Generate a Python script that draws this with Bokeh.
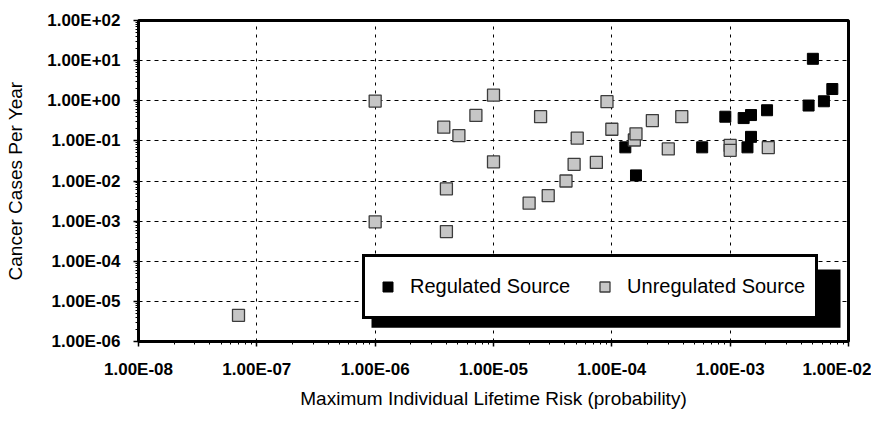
from bokeh.plotting import figure
from bokeh.models import (Range1d, FixedTicker, CustomJSTickFormatter, Legend, LegendItem,
                          BoxAnnotation, ColumnDataSource)
from bokeh.embed import file_html
from bokeh.resources import INLINE

# ---- data ----
reg_risk = [1.3e-4, 1.6e-4, 5.8e-4, 9.1e-4, 1.3e-3, 1.5e-3, 1.5e-3, 1.4e-3, 2.05e-3,
            5.0e-3, 4.6e-3, 6.2e-3, 7.3e-3]
reg_cases = [0.069, 0.0138, 0.069, 0.40, 0.37, 0.44, 0.126, 0.069, 0.58,
             11.1, 0.76, 0.97, 1.96]

unreg_risk = [7.0e-8, 1.0e-6, 1.0e-6, 4.0e-6, 3.8e-6, 5.1e-6, 7.1e-6, 4.0e-6, 1.0e-5,
              1.0e-5, 2.5e-5, 5.1e-5, 4.8e-5, 7.4e-5, 4.1e-5, 2.9e-5, 2.0e-5, 9.1e-5,
              1.0e-4, 1.55e-4, 1.6e-4, 2.2e-4, 3.0e-4, 3.9e-4, 1.0e-3, 1.0e-3, 2.1e-3]
unreg_cases = [4.5e-6, 9.6e-4, 0.98, 5.5e-4, 0.22, 0.135, 0.43, 6.4e-3, 1.38,
               0.030, 0.40, 0.117, 0.026, 0.029, 0.010, 4.3e-3, 2.8e-3, 0.95,
               0.195, 0.105, 0.15, 0.32, 0.063, 0.40, 0.077, 0.058, 0.068]

x_ticks = [1e-8, 1e-7, 1e-6, 1e-5, 1e-4, 1e-3, 1e-2]
x_tick_labels = ["1.00E-08", "1.00E-07", "1.00E-06", "1.00E-05", "1.00E-04", "1.00E-03", "1.00E-02"]
y_ticks = [1e-6, 1e-5, 1e-4, 1e-3, 1e-2, 1e-1, 1e0, 1e1, 1e2]
y_tick_labels = ["1.00E-06", "1.00E-05", "1.00E-04", "1.00E-03", "1.00E-02", "1.00E-01",
                 "1.00E+00", "1.00E+01", "1.00E+02"]

x_title = "Maximum Individual Lifetime Risk (probability)"
y_title = "Cancer Cases Per Year"
series_names = ["Regulated Source", "Unregulated Source"]

FONT = "Liberation Sans"

# layout (canvas px)
W, H = 871, 411
FL, FR, FT, FB = 138, 848, 20, 345

p = figure(width=W, height=H, x_axis_type="log", y_axis_type="log",
           x_range=Range1d(x_ticks[0], x_ticks[-1]), y_range=Range1d(y_ticks[0], y_ticks[-1]),
           output_backend="svg", toolbar_location=None,
           min_border_left=FL, min_border_right=W - FR, min_border_top=FT, min_border_bottom=H - FB)

p.outline_line_color = "black"
p.outline_line_width = 3
p.background_fill_color = "white"
p.border_fill_color = "white"


def minor_list(major):
    out = []
    for m in major[:-1]:
        for k in range(2, 10):
            out.append(m * k)
    return out


fmt_code = """
let best = 0, bd = Infinity;
for (let i = 0; i < vals.length; i++) {
  const d = Math.abs(Math.log10(vals[i]) - Math.log10(tick));
  if (d < bd) { bd = d; best = i; }
}
return labels[best];
"""

xa = p.xaxis[0]
xa.ticker = FixedTicker(ticks=x_ticks, minor_ticks=minor_list(x_ticks))
xa.formatter = CustomJSTickFormatter(args=dict(vals=x_ticks, labels=x_tick_labels), code=fmt_code)
ya = p.yaxis[0]
ya.ticker = FixedTicker(ticks=y_ticks, minor_ticks=minor_list(y_ticks))
ya.formatter = CustomJSTickFormatter(args=dict(vals=y_ticks, labels=y_tick_labels), code=fmt_code)

for ax in (xa, ya):
    ax.axis_line_width = 3
    ax.axis_line_color = "black"
    ax.major_tick_in = 0
    ax.major_tick_out = 5
    ax.major_tick_line_width = 1.5
    ax.minor_tick_in = 0
    ax.minor_tick_out = 3
    ax.minor_tick_line_width = 1
    ax.major_label_text_font = FONT
    ax.major_label_text_font_size = "17px"
    ax.major_label_text_font_style = "bold"
    ax.major_label_text_color = "black"
    ax.axis_label_text_font = FONT
    ax.axis_label_text_font_size = "19px"
    ax.axis_label_text_font_style = "normal"
    ax.axis_label_text_color = "black"

xa.axis_label = x_title
xa.major_label_standoff = 13
xa.axis_label_standoff = 6
ya.axis_label = y_title
ya.major_label_standoff = 13
ya.axis_label_standoff = 18

p.xgrid[0].grid_line_dash = "3 5"
p.ygrid[0].grid_line_dash = "4 4"
for g in (p.xgrid[0], p.ygrid[0]):
    g.grid_line_color = "black"
    g.grid_line_width = 1

src_r = ColumnDataSource(dict(x=reg_risk, y=reg_cases))
src_u = ColumnDataSource(dict(x=unreg_risk, y=unreg_cases))

r1 = p.scatter("x", "y", source=src_r, marker="square", size=11,
               fill_color="black", line_color="black", line_width=1)
r2 = p.scatter("x", "y", source=src_u, marker="square", size=12,
               fill_color="#c6c6c6", line_color="#3c3c3c", line_width=1.3)

# legend shadow (decoration, placed via frame pixel geometry)
XPD = (FR - FL) / 6.0
YPD = (FB - FT) / 8.0


def px2x(px):
    return 10 ** (-8 + (px - FL) / XPD)


def px2y(py):
    return 10 ** (2 - (py - FT) / YPD)


shadow = BoxAnnotation(left=px2x(371), right=px2x(840), bottom=px2y(331), top=px2y(272),
                       fill_color="black", fill_alpha=1, line_alpha=0)
p.add_layout(shadow)

legend = Legend(items=[LegendItem(label=series_names[0], renderers=[r1]),
                       LegendItem(label=series_names[1], renderers=[r2])],
                orientation="horizontal", location=(224, 22), margin=0,
                padding=10, spacing=22, label_standoff=10,
                glyph_width=25, glyph_height=39, label_height=39,
                label_text_font=FONT, label_text_font_size="20px", label_text_color="black",
                border_line_color="black", border_line_width=3, border_line_alpha=1,
                background_fill_color="white", background_fill_alpha=1)
p.add_layout(legend, "center")

open("out.html", "w").write(file_html(p, INLINE))
